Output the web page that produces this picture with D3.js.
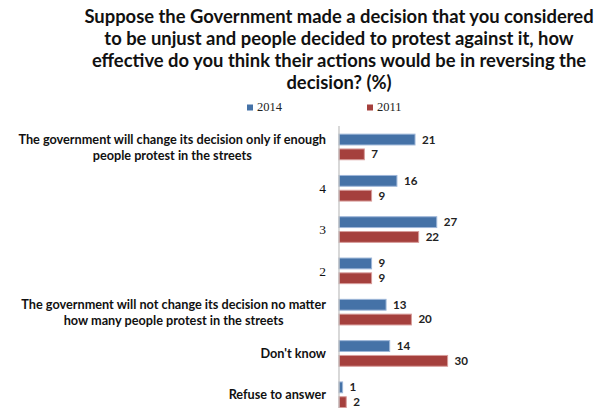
<!DOCTYPE html>
<html><head><meta charset="utf-8">
<script src="https://cdn.jsdelivr.net/npm/d3@7"></script>
<style>body{margin:0;background:#fff}svg{display:block}</style>
</head><body>
<script>
const titleLines = ["Suppose the Government made a decision that you considered","to be unjust and people decided to protest against it, how","effective do you think their actions would be in reversing the","decision? (%)"];
const categories = ["The government will change its decision only if enough\npeople protest in the streets","4","3","2","The government will not change its decision no matter\nhow many people protest in the streets","Don't know","Refuse to answer"];
const seriesNames = ["2014","2011"];
const values2014 = [21,16,27,9,13,14,1];
const values2011 = [7,9,22,9,20,30,2];
const colors = ["#4572A7","#A5403D"];
const strokes = ["#9DB6D8","#D79C9A"];

const W=603,H=408;
const svg=d3.select("body").append("svg").attr("width",W).attr("height",H);

// title
svg.append("g").selectAll("text").data(titleLines).join("text")
 .attr("x",339).attr("y",(d,i)=>23+i*22).attr("text-anchor","middle")
 .attr("font-family","Lato").attr("font-weight","bold").attr("font-size",18.4).attr("fill","#111")
 .text(d=>d);

// legend
const legX=[247,367];
const lg=svg.append("g").selectAll("g").data(seriesNames).join("g").attr("transform",(d,i)=>`translate(${legX[i]},104.5)`);
lg.append("rect").attr("width",6).attr("height",6).attr("fill",(d,i)=>colors[i]);
lg.append("text").attr("x",10).attr("y",6.5).attr("font-family","Liberation Serif").attr("font-size",12.5).attr("fill","#222").text(d=>d);

const x=d3.scaleLinear().domain([0,30]).range([339,339+30*3.62]);
const y=d3.scaleBand().domain(categories).range([126.3,126.3+7*41.3]).paddingInner(0.38).paddingOuter(0.19);
const ys=d3.scaleBand().domain(seriesNames).range([0,y.bandwidth()]).paddingInner(0.27);

const rows=categories.map((c,i)=>({c,vals:[values2014[i],values2011[i]]}));
const g=svg.append("g").selectAll("g").data(rows).join("g").attr("transform",d=>`translate(0,${y(d.c)})`);
g.selectAll("rect").data(d=>d.vals.map((v,i)=>({v,s:seriesNames[i],i}))).join("rect")
 .attr("x",x(0)).attr("y",d=>ys(d.s)).attr("width",d=>x(d.v)-x(0)).attr("height",ys.bandwidth())
 .attr("fill",d=>colors[d.i]).attr("stroke",d=>strokes[d.i]).attr("stroke-width",1);
g.selectAll("text.v").data(d=>d.vals.map((v,i)=>({v,s:seriesNames[i],i}))).join("text").attr("class","v")
 .attr("x",d=>x(d.v)+7).attr("y",d=>ys(d.s)+ys.bandwidth()/2).attr("dy","0.34em")
 .attr("font-family","Lato").attr("font-weight","bold").attr("font-size",11.6).attr("fill","#222").text(d=>d.v);

// category labels: block right-aligned, lines centred within block
const labG=svg.append("g").selectAll("g").data(categories).join("g")
 .attr("transform",d=>`translate(326,${y(d)+y.bandwidth()/2})`);
labG.each(function(d){
  const isNum=/^\d$/.test(d);
  const lines=d.split("\n");
  const t=d3.select(this).append("text").attr("fill","#111")
   .attr("font-family",isNum?"Liberation Serif":"Lato")
   .attr("font-weight",isNum?"normal":"bold")
   .attr("font-size",isNum?13.5:12.7);
  t.selectAll("tspan").data(lines).join("tspan").attr("x",0)
   .attr("y",(l,i)=>(i-(lines.length-1)/2)*16).attr("dy","0.36em").text(l=>l);
  // measure widths and centre
  const widths=[];
  t.selectAll("tspan").each(function(){widths.push(this.getComputedTextLength());});
  const maxW=d3.max(widths);
  t.selectAll("tspan").attr("text-anchor","middle").attr("x",-maxW/2);
});

// axis line
svg.append("line").attr("x1",x(0)).attr("x2",x(0)).attr("y1",126).attr("y2",H).attr("stroke","#BFBFBF").attr("stroke-width",1.2);
</script>
</body></html>
